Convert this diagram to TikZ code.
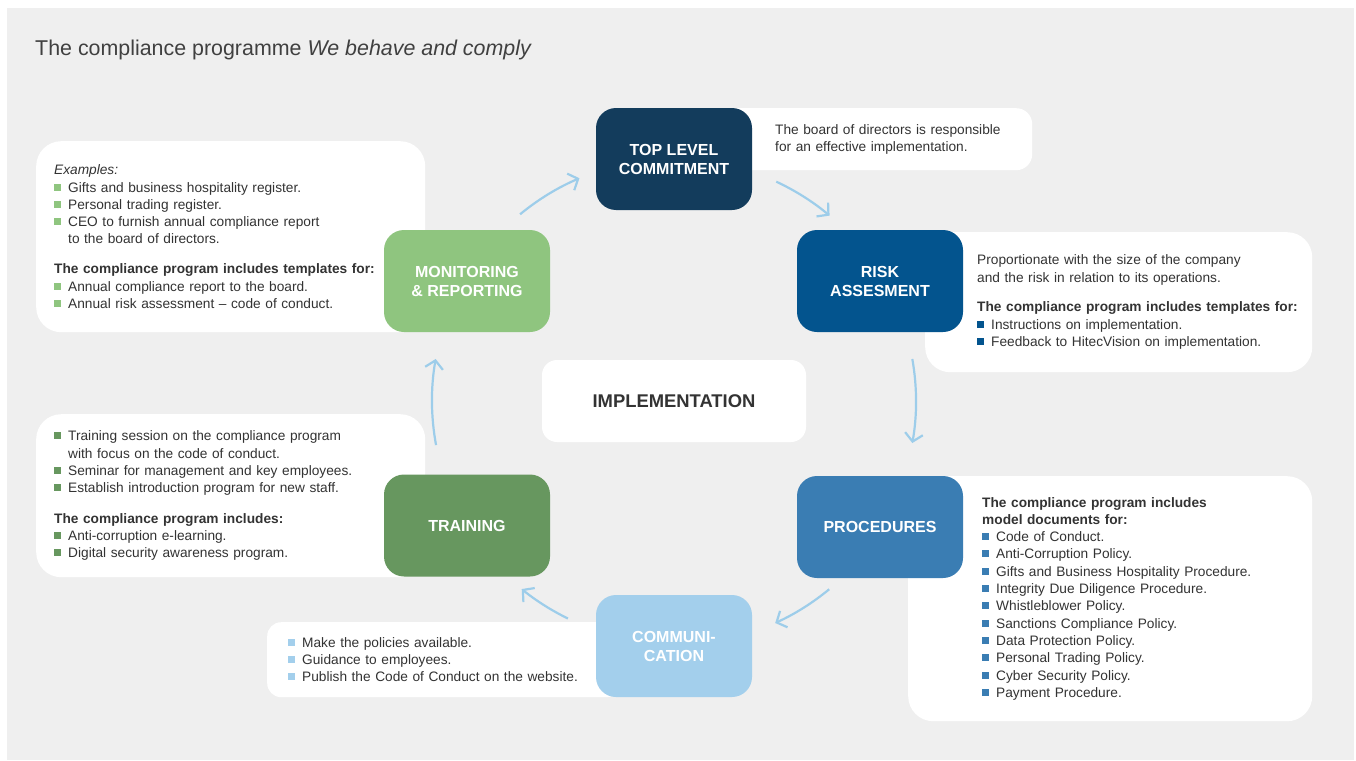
\documentclass[tikz,border=0pt]{standalone}
\usepackage{fontspec}
\setmainfont{Liberation Sans}
\usetikzlibrary{arrows.meta}

\definecolor{canvas}{HTML}{EFEFEF}
\definecolor{ink}{HTML}{333333}
\definecolor{titlegrey}{HTML}{404040}
\definecolor{topblue}{HTML}{133C5C}
\definecolor{riskblue}{HTML}{03548E}
\definecolor{procblue}{HTML}{3A7DB3}
\definecolor{commblue}{HTML}{A3CFEC}
\definecolor{traingreen}{HTML}{67975F}
\definecolor{mongreen}{HTML}{8FC57F}
\definecolor{ringblue}{HTML}{9DCDEA}

\newcommand\notefont{\fontsize{13.7}{17.3}\selectfont}
\newcommand\stagefont{\fontsize{16}{19}\selectfont\bfseries}
\newcommand\indentto[1]{\leftskip=#1\parindent=0pt\relax}
\newcommand\bulletsq[1]{\textcolor{#1}{\rule[1.5pt]{7pt}{7pt}}\hspace{7pt}}
\newcommand\contline{\hspace*{14pt}}

\begin{document}
\begin{tikzpicture}[
  x=1pt, y=-1pt,
  stage/.style={rounded corners=20pt, minimum width=166pt, minimum height=102pt,
    inner sep=0pt, align=center, text=white, font=\stagefont},
  note/.style={fill=white, anchor=north west, align=left, inner xsep=0pt,
    inner ysep=0pt, text=ink, font=\notefont},
  ring/.style={-{Straight Barb[length=8pt,width=18pt]}, line width=2.2pt, ringblue}]

% Page and grey canvas
\useasboundingbox (0,0) rectangle (1356,760);
\fill[white] (0,0) rectangle (1356,760);
\fill[canvas] (7,8) rectangle (1354,760);

\node[anchor=base west, inner sep=0pt, text=titlegrey,
  font=\fontsize{21.4}{25}\selectfont] (title) at (35,56)
  {The compliance programme \textit{We behave and comply}};

% Centre of the cycle
\node[fill=white, rounded corners=15pt, minimum width=264pt, minimum height=82pt,
  text=ink, font=\fontsize{18.4}{22}\selectfont\bfseries] (impl) at (674,401) {IMPLEMENTATION};

% Arrows of the cycle, arcs round the centre box
\draw[ring] ([shift={(-129.5:242)}]impl.center) arc[start angle=-129.5, end angle=-113, radius=242];
\draw[ring] ([shift={(-65:242)}]impl.center) arc[start angle=-65, end angle=-50, radius=242];
\draw[ring] ([shift={(-10:242)}]impl.center) arc[start angle=-10, end angle=10, radius=242];
\draw[ring] ([shift={(50.5:244)}]impl.center) arc[start angle=50.5, end angle=65.5, radius=244];
\draw[ring] ([shift={(116:242)}]impl.center) arc[start angle=116, end angle=129, radius=242];
\draw[ring] ([shift={(-190.5:242)}]impl.center) arc[start angle=-190.5, end angle=-170, radius=242];

% White notes beside the stages
\node[note, rounded corners=16pt, text width=332pt, minimum height=62pt] (commitnote) at (700,108)
  {\indentto{75pt}The board of directors is responsible\\
  for an effective implementation.\par};
\node[note, rounded corners=25pt, text width=387pt, minimum height=140pt] (risknote) at (925,232)
  {\indentto{52pt}Proportionate with the size of the company\\
  and the risk in relation to its operations.\\[12.5pt]
  \textbf{The compliance program includes templates for:}\\
  \bulletsq{riskblue}Instructions on implementation.\\
  \bulletsq{riskblue}Feedback to HitecVision on implementation.\par};
\node[note, rounded corners=25pt, text width=404pt, minimum height=245pt] (procnote) at (908,476)
  {\indentto{74pt}\textbf{The compliance program includes}\\
  \textbf{model documents for:}\\
  \bulletsq{procblue}Code of Conduct.\\
  \bulletsq{procblue}Anti-Corruption Policy.\\
  \bulletsq{procblue}Gifts and Business Hospitality Procedure.\\
  \bulletsq{procblue}Integrity Due Diligence Procedure.\\
  \bulletsq{procblue}Whistleblower Policy.\\
  \bulletsq{procblue}Sanctions Compliance Policy.\\
  \bulletsq{procblue}Data Protection Policy.\\
  \bulletsq{procblue}Personal Trading Policy.\\
  \bulletsq{procblue}Cyber Security Policy.\\
  \bulletsq{procblue}Payment Procedure.\par};
\node[note, rounded corners=14pt, text width=353pt, minimum height=75pt] (commnote) at (267,622)
  {\indentto{21pt}\bulletsq{commblue}Make the policies available.\\
  \bulletsq{commblue}Guidance to employees.\\
  \bulletsq{commblue}Publish the Code of Conduct on the website.\par};
\node[note, rounded corners=25pt, text width=389pt, minimum height=163pt] (trainnote) at (36,414)
  {\indentto{18pt}\bulletsq{traingreen}Training session on the compliance program\\
  \contline with focus on the code of conduct.\\
  \bulletsq{traingreen}Seminar for management and key employees.\\
  \bulletsq{traingreen}Establish introduction program for new staff.\\[13pt]
  \textbf{The compliance program includes:}\\
  \bulletsq{traingreen}Anti-corruption e-learning.\\
  \bulletsq{traingreen}Digital security awareness program.\par};
\node[note, rounded corners=25pt, text width=389pt, minimum height=191pt] (monnote) at (36,141)
  {\indentto{18pt}\textit{Examples:}\\
  \bulletsq{mongreen}Gifts and business hospitality register.\\
  \bulletsq{mongreen}Personal trading register.\\
  \bulletsq{mongreen}CEO to furnish annual compliance report\\
  \contline to the board of directors.\\[12.5pt]
  \textbf{The compliance program includes templates for:}\\
  \bulletsq{mongreen}Annual compliance report to the board.\\
  \bulletsq{mongreen}Annual risk assessment -- code of conduct.\par};

% The six stages
\node[stage, fill=topblue, minimum width=156pt] (commit) at (674,159) {TOP LEVEL\\COMMITMENT};
\node[stage, fill=riskblue] (risk) at (880,281) {RISK\\ASSESMENT};
\node[stage, fill=procblue] (procedures) at (880,527) {PROCEDURES};
\node[stage, fill=commblue, minimum width=156pt] (communication) at (674,646) {COMMUNI-\\CATION};
\node[stage, fill=traingreen] (training) at (467,525.5) {TRAINING};
\node[stage, fill=mongreen] (monitoring) at (467,281) {MONITORING\\\& REPORTING};
\end{tikzpicture}
\end{document}
